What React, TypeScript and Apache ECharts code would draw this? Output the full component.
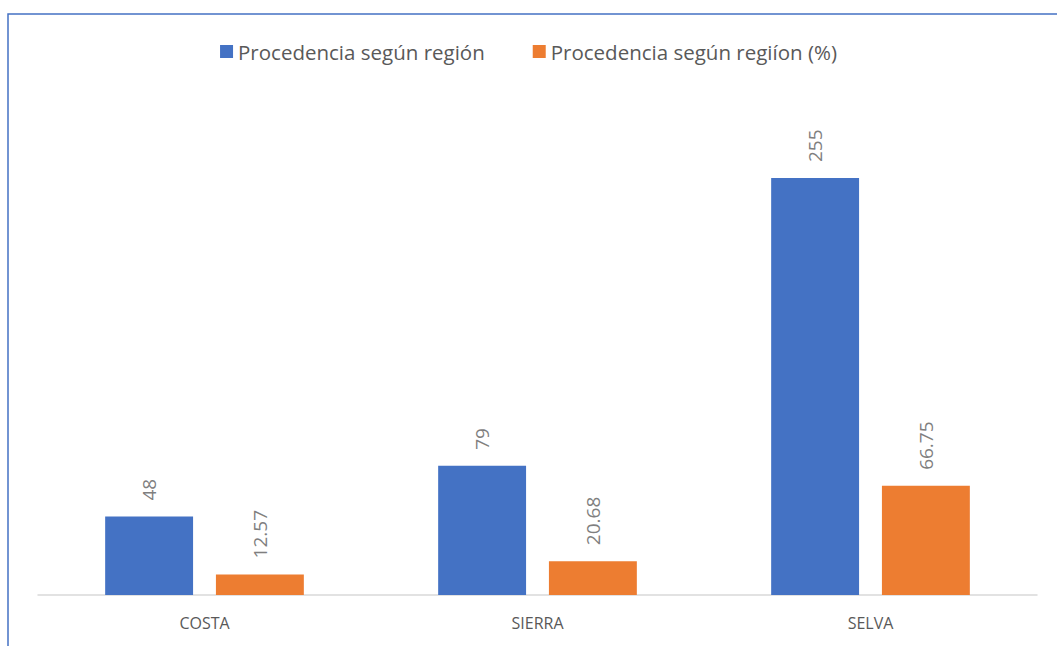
import React, { useEffect, useRef } from "react";
import * as echarts from "echarts";

const categories = ["COSTA", "SIERRA", "SELVA"];
const seriesNames = ["Procedencia según región", "Procedencia según regiíon (%)"];
const counts = [48, 79, 255];
const percents = [12.57, 20.68, 66.75];

export default function App() {
  const ref = useRef<HTMLDivElement>(null);
  useEffect(() => {
    document.body.style.margin = "0";
    const chart = echarts.init(ref.current!, null, { renderer: "svg" });
    const font = "Open Sans";
    const label = {
      show: true,
      position: "top",
      rotate: 90,
      align: "left",
      verticalAlign: "middle",
      distance: 16,
      color: "#7f7f7f",
      fontSize: 19,
      fontFamily: font,
    };
    chart.setOption({
      animation: false,
      backgroundColor: "#ffffff",
      textStyle: { fontFamily: font },
      graphic: [
        {
          type: "rect",
          shape: { x: 8, y: 14, width: 1100, height: 700 },
          style: { fill: "none", stroke: "#4472C4", lineWidth: 1.5 },
          silent: true,
        },
      ],
      legend: {
        top: 36,
        left: "center",
        itemWidth: 13,
        itemHeight: 13,
        itemGap: 48,
        icon: "rect",
        textStyle: { color: "#595959", fontSize: 20.5, fontFamily: font },
        data: seriesNames,
      },
      grid: { left: 38, right: 20, top: 104.5, bottom: 51, containLabel: false },
      xAxis: {
        type: "category",
        data: categories,
        axisLine: { lineStyle: { color: "#d9d9d9", width: 1.5 } },
        axisTick: { show: false },
        axisLabel: { color: "#595959", fontSize: 16, fontFamily: font, margin: 20 },
      },
      yAxis: {
        type: "value",
        min: 0,
        max: 300,
        show: false,
        splitLine: { show: false },
      },
      series: [
        {
          name: seriesNames[0],
          type: "bar",
          data: counts,
          barWidth: "26.4%",
          barGap: "26%",
          itemStyle: { color: "#4472C4" },
          label,
        },
        {
          name: seriesNames[1],
          type: "bar",
          data: percents,
          barWidth: "26.4%",
          itemStyle: { color: "#ED7D31" },
          label,
        },
      ],
    });
    return () => chart.dispose();
  }, []);
  return (
    <div
      ref={ref}
      style={{ position: "fixed", left: 0, top: 0, width: 1057, height: 646 }}
    />
  );
}
